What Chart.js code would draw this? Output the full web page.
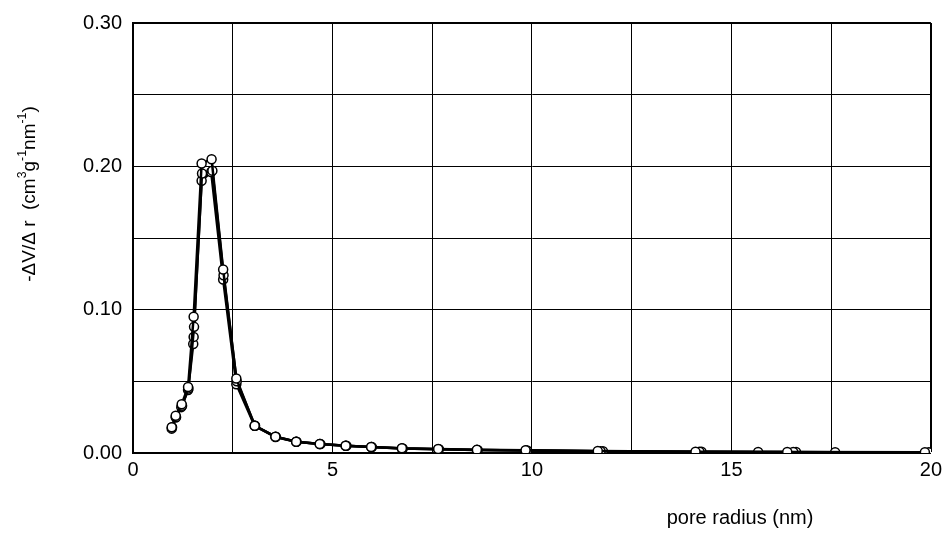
<!DOCTYPE html>
<html>
<head>
<meta charset="utf-8">
<script src="https://cdn.jsdelivr.net/npm/chart.js@4.4.1/dist/chart.umd.min.js"></script>
<style>
  html, body { margin: 0; padding: 0; background: #fff; }
  #wrap { width: 947px; height: 535px; }
</style>
</head>
<body>
<div id="wrap"><canvas id="psd"></canvas></div>
<script>
// pore radius (nm) and -dV/dr values, three overlapping runs
const run1R = [0.97, 1.07, 1.22, 1.38, 1.52, 1.72, 1.97, 2.26, 2.59, 3.05, 3.57, 4.09, 4.68, 5.33, 5.97, 6.74, 7.65, 8.62, 9.84, 11.65, 14.1, 16.4, 19.85];
const run1V = [0.018, 0.026, 0.034, 0.046, 0.095, 0.202, 0.205, 0.128, 0.052, 0.019, 0.0114, 0.0079, 0.0063, 0.0051, 0.0042, 0.0033, 0.0028, 0.0022, 0.0019, 0.0014, 0.0009, 0.0007, 0.0005];

const run2R = [0.98, 1.08, 1.23, 1.39, 1.53, 1.73, 1.99, 2.27, 2.6, 3.06, 3.58, 4.1, 4.7, 5.35, 5.99, 6.76, 7.67, 8.64, 9.88, 11.72, 14.2, 16.55, 17.6, 19.95];
const run2V = [0.018, 0.025, 0.033, 0.045, 0.088, 0.195, 0.197, 0.124, 0.050, 0.019, 0.0113, 0.0078, 0.0062, 0.0050, 0.0041, 0.0032, 0.0027, 0.0021, 0.0018, 0.0013, 0.0009, 0.0007, 0.0006, 0.0005];

const run3R = [0.97, 1.07, 1.21, 1.38, 1.51, 1.52, 1.72, 1.96, 2.26, 2.59, 3.05, 3.57, 4.09, 4.68, 5.33, 5.97, 6.74, 7.65, 8.62, 9.85, 11.78, 14.25, 15.67, 16.62];
const run3V = [0.017, 0.025, 0.032, 0.044, 0.076, 0.081, 0.190, 0.196, 0.121, 0.048, 0.019, 0.0112, 0.0078, 0.0062, 0.0050, 0.0041, 0.0032, 0.0027, 0.0021, 0.0018, 0.0013, 0.0009, 0.0007, 0.0007];

const xMin = 0, xMax = 20, xStep = 2.5;
const yMin = 0, yMax = 0.30, yStep = 0.05;

const FONT = "'Liberation Sans', Arial, sans-serif";

function toPoints(xs, ys) {
    return xs.map((x, i) => ({ x: x, y: ys[i] }));
}

function runDataset(label, xs, ys) {
    return {
        label: label,
        data: toPoints(xs, ys),
        showLine: true,
        borderColor: '#000',
        borderWidth: 2.5,
        pointRadius: 4.5,
        pointBackgroundColor: '#fff',
        pointBorderColor: '#000',
        pointBorderWidth: 1.5,
        tension: 0
    };
}

// draws a run of text pieces, some raised as superscripts
function drawRich(ctx, parts, size) {
    let total = 0;
    parts.forEach(p => {
        ctx.font = (p.sup ? size * 0.65 : size) + 'px ' + FONT;
        p.w = ctx.measureText(p.t).width;
        total += p.w;
    });
    let x = -total / 2;
    parts.forEach(p => {
        ctx.font = (p.sup ? size * 0.65 : size) + 'px ' + FONT;
        ctx.fillText(p.t, x, p.sup ? -size * 0.38 : 0);
        x += p.w;
    });
}

const axisTitles = {
    id: 'axisTitles',
    afterDraw(chart) {
        const ctx = chart.ctx;
        ctx.save();
        ctx.fillStyle = '#000';
        ctx.textBaseline = 'middle';
        ctx.textAlign = 'left';

        ctx.save();
        ctx.translate(30, 194);
        ctx.rotate(-Math.PI / 2);
        drawRich(ctx, [
            { t: '-\u0394V/\u0394 r  (cm' }, { t: '3', sup: true },
            { t: 'g' }, { t: '-1', sup: true },
            { t: 'nm' }, { t: '-1', sup: true }, { t: ')' }
        ], 19);
        ctx.restore();

        ctx.font = '20px ' + FONT;
        ctx.textAlign = 'center';
        ctx.fillText('pore radius (nm)', 740, 518);
        ctx.restore();
    }
};

new Chart(document.getElementById('psd'), {
    type: 'scatter',
    data: {
        datasets: [
            runDataset('run 1', run1R, run1V),
            runDataset('run 2', run2R, run2V),
            runDataset('run 3', run3R, run3V)
        ]
    },
    options: {
        responsive: true,
        maintainAspectRatio: false,
        animation: false,
        layout: { padding: { left: 0, right: 15, top: 23, bottom: 0 } },
        plugins: {
            legend: { display: false },
            tooltip: { enabled: false }
        },
        scales: {
            x: {
                type: 'linear',
                min: xMin,
                max: xMax,
                afterFit: scale => { scale.height = 82; },
                ticks: {
                    stepSize: xStep,
                    padding: 5,
                    color: '#000',
                    font: { family: FONT, size: 20 },
                    maxRotation: 0,
                    callback: v => (v % 5 === 0 ? String(v) : '')
                },
                grid: {
                    color: '#000',
                    lineWidth: c => (c.tick && c.tick.value === xMax ? 2 : 1),
                    drawTicks: false
                },
                border: { display: true, color: '#000', width: 2 }
            },
            y: {
                type: 'linear',
                min: yMin,
                max: yMax,
                afterFit: scale => { scale.width = 133; },
                ticks: {
                    stepSize: yStep,
                    padding: 11,
                    color: '#000',
                    font: { family: FONT, size: 20 },
                    callback: v => {
                        const t = v * 10;
                        return Math.abs(t - Math.round(t)) < 1e-6 ? v.toFixed(2) : '';
                    }
                },
                grid: {
                    color: '#000',
                    lineWidth: c => (c.tick && Math.abs(c.tick.value - yMax) < 1e-9 ? 2 : 1),
                    drawTicks: false
                },
                border: { display: true, color: '#000', width: 2 }
            }
        }
    },
    plugins: [axisTitles]
});
</script>
</body>
</html>
